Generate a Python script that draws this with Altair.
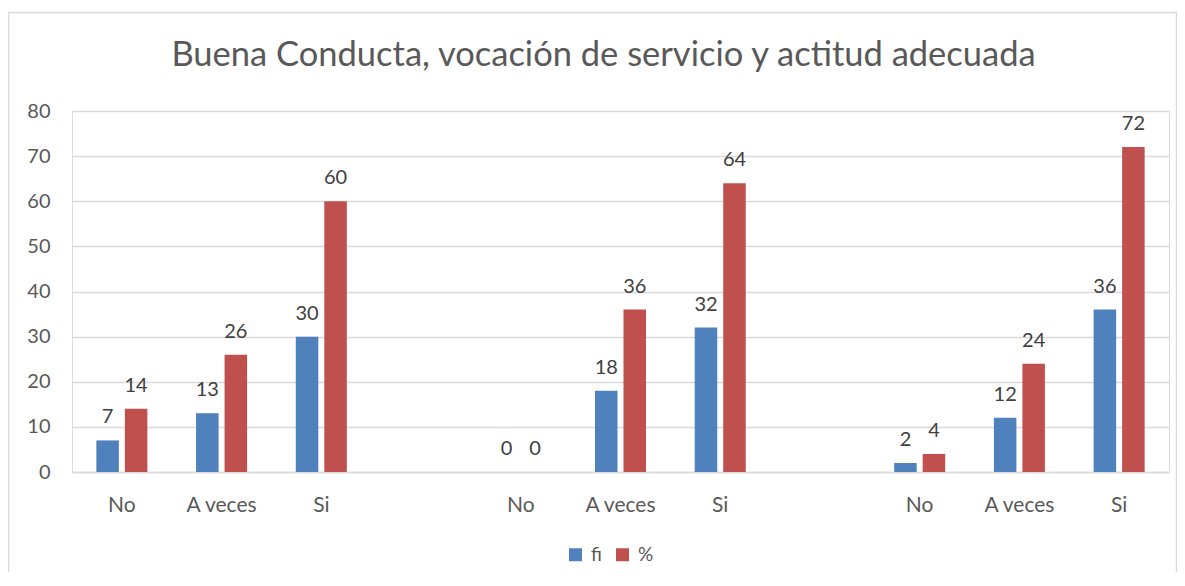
import altair as alt
import pandas as pd

groups = ["g1", "g2", "g3"]
answers = ["No", "A veces", "Si"]
fi_values = [[7, 13, 30], [0, 18, 32], [2, 12, 36]]
pct_values = [[14, 26, 60], [0, 36, 64], [4, 24, 72]]
series = ["fi", "%"]
colors = ["#4F81BD", "#C0504D"]
y_ticks = [0, 10, 20, 30, 40, 50, 60, 70, 80]
title_text = "Buena Conducta, vocación de servicio y actitud adecuada"

# slot domain: three groups of answers with an empty slot between groups
slots = []
for gi, g in enumerate(groups):
    for a in answers:
        slots.append(f"{g}|{a}")
    if gi < len(groups) - 1:
        slots.append(f"gap{gi}|")

rows = []
for gi, g in enumerate(groups):
    for ai, a in enumerate(answers):
        rows.append({"slot": f"{g}|{a}", "series": "fi", "value": fi_values[gi][ai]})
        rows.append({"slot": f"{g}|{a}", "series": "%", "value": pct_values[gi][ai]})
df = pd.DataFrame(rows)

FONT = "Lato"
W, H = 1097, 361

x_enc = alt.X(
    "slot:N",
    sort=slots,
    scale=alt.Scale(domain=slots, paddingInner=0, paddingOuter=0),
    axis=alt.Axis(
        title=None,
        labelExpr="split(datum.label, '|')[1]",
        labelAngle=0,
        ticks=False,
        labelPadding=22,
        labelFont=FONT,
        labelFontSize=21,
        labelColor="#595959",
        domainColor="#D9D9D9",
        domainWidth=1.5,
        grid=False,
    ),
)
y_enc = alt.Y(
    "value:Q",
    scale=alt.Scale(domain=[0, 80]),
    axis=alt.Axis(
        title=None,
        values=y_ticks,
        ticks=False,
        domain=False,
        labelPadding=22,
        labelFont=FONT,
        labelFontSize=20,
        labelColor="#595959",
        gridColor="#D9D9D9",
        gridWidth=1.5,
    ),
)
xoff = alt.XOffset(
    "series:N",
    sort=series,
    scale=alt.Scale(domain=series, paddingInner=0.21, paddingOuter=0.854),
)
color_enc = alt.Color(
    "series:N",
    sort=series,
    scale=alt.Scale(domain=series, range=colors),
    legend=alt.Legend(
        title=None,
        orient="none",
        direction="horizontal",
        legendX=494,
        legendY=434,
        symbolType="square",
        symbolSize=169,
        symbolStrokeWidth=0,
        labelFont=FONT,
        labelFontSize=19,
        labelColor="#595959",
        labelOffset=6,
        columnPadding=11,
        padding=0,
    ),
)

base = alt.Chart(df)
bars = base.mark_bar().encode(x=x_enc, y=y_enc, xOffset=xoff, color=color_enc)
labels = base.mark_text(
    baseline="alphabetic", dy=-17, font=FONT, fontSize=20, color="#404040"
).encode(x=x_enc, y=y_enc, xOffset=xoff, text="value:Q")

border = alt.Chart(pd.DataFrame({"b": [0]})).mark_rect(
    fill=None, stroke="#D9D9D9", strokeWidth=1.5
).encode(
    x=alt.value(-63.5), x2=alt.value(1104.5), y=alt.value(-98.5), y2=alt.value(480)
)

chart = (
    alt.layer(border, bars, labels)
    .properties(
        width=W,
        height=H,
        autosize=alt.AutoSizeParams(type="none"),
        padding={"left": 64, "top": 103, "right": 8, "bottom": 100},
        title=alt.TitleParams(
            title_text,
            font=FONT,
            fontSize=34.5,
            fontWeight="normal",
            color="#595959",
            anchor="middle",
            baseline="alphabetic",
            offset=-89,
            dx=-17,
        ),
    )
    .configure_view(stroke=None)
    .configure(background="white")
)

chart.save("out.html", embed_options={"renderer": "svg", "actions": False})
